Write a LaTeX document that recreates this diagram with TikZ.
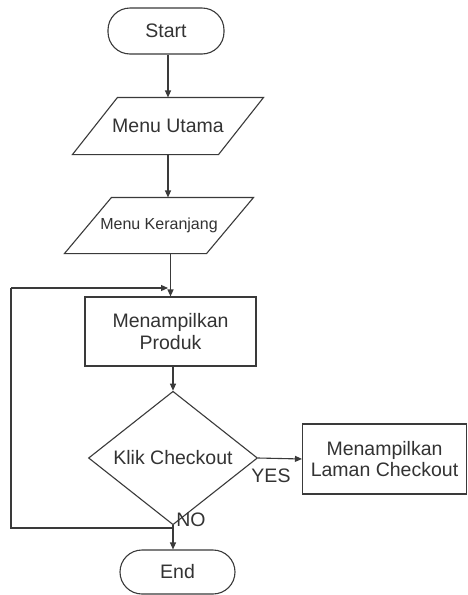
\documentclass[tikz,border=0pt]{standalone}
\usepackage{fontspec}
\setmainfont{Liberation Sans}
\usetikzlibrary{shapes.geometric,arrows.meta}
\definecolor{ink}{HTML}{3A3A3A}
\definecolor{txt}{HTML}{333333}
\tikzset{
  base/.style={draw=ink, line width=1.1pt, text=txt, font=\fontsize{19.5}{21.5}\selectfont, align=center, inner sep=0pt},
  terminal/.style={base, rectangle, rounded corners=22pt},
  io/.style={base, rectangle, draw=none},
  process/.style={base, rectangle},
  decision/.style={base, diamond},
  flow/.style={draw=ink, line width=1.1pt, -{Triangle[length=7pt,width=6pt]}},
  plain/.style={draw=ink, line width=1.1pt},
  lbl/.style={text=txt, font=\fontsize{19.5}{21.5}\selectfont, inner sep=0pt}
}
% slanted outline of an input/output node, slant given in pt
\newcommand{\ioframe}[2]{%
  \draw[plain] (#1.south west) -- ([xshift=#2]#1.north west)
    -- (#1.north east) -- ([xshift=-#2]#1.south east) -- cycle;}
\begin{document}
\begin{tikzpicture}[x=1pt,y=-1pt]
  \useasboundingbox (0,0) rectangle (468,595);
  \fill[white] (0,0) rectangle (468,595);

  \node[terminal, minimum width=116pt, minimum height=46pt] (start) at (166,31) {Start};
  \node[io, minimum width=190pt, minimum height=56pt] (utama) at (168,126) {Menu Utama};
  \ioframe{utama}{45pt}
  \node[io, minimum width=188pt, minimum height=55pt,
        font=\fontsize{16}{18}\selectfont] (keranjang) at (159,225.5) {Menu Keranjang};
  \ioframe{keranjang}{47pt}
  \node[process, minimum width=171pt, minimum height=69pt] (produk) at (170.5,331.5) {Menampilkan\\Produk};
  \node[decision, minimum width=169pt, minimum height=100pt] (klik) at (173,458) {Klik Checkout};
  \node[process, minimum width=164pt, minimum height=70pt] (laman) at (384.5,459) {Menampilkan\\Laman Checkout};
  \node[terminal, minimum width=115pt, minimum height=44pt] (end) at (177.5,572) {End};

  % main flow
  \draw[flow] (start.south -| utama.center) -- (utama.north -| utama.center);
  \draw[flow] (utama.south -| utama.center) -- (utama.center |- keranjang.north);
  \draw[flow] (produk.north |- keranjang.south) -- (produk.north);
  \draw[flow] (produk.south -| klik.north) -- (klik.north);
  \draw[flow] (klik.east) -- (laman.west);
  \draw[flow] (klik.south) -- (klik.south |- end.north);

  % loop back when checkout is not chosen
  \coordinate (split) at (173,528);
  \coordinate (left) at (11,528);
  \coordinate (top) at (11,288);
  \coordinate (join) at (168,288);
  \draw[plain] (split) -- (left) -- (top);
  \draw[flow] (top) -- (join);

  % branch labels
  \node[lbl] (yes) at (271,475.5) {YES};
  \node[lbl] (no) at (191,520) {NO};
\end{tikzpicture}
\end{document}
